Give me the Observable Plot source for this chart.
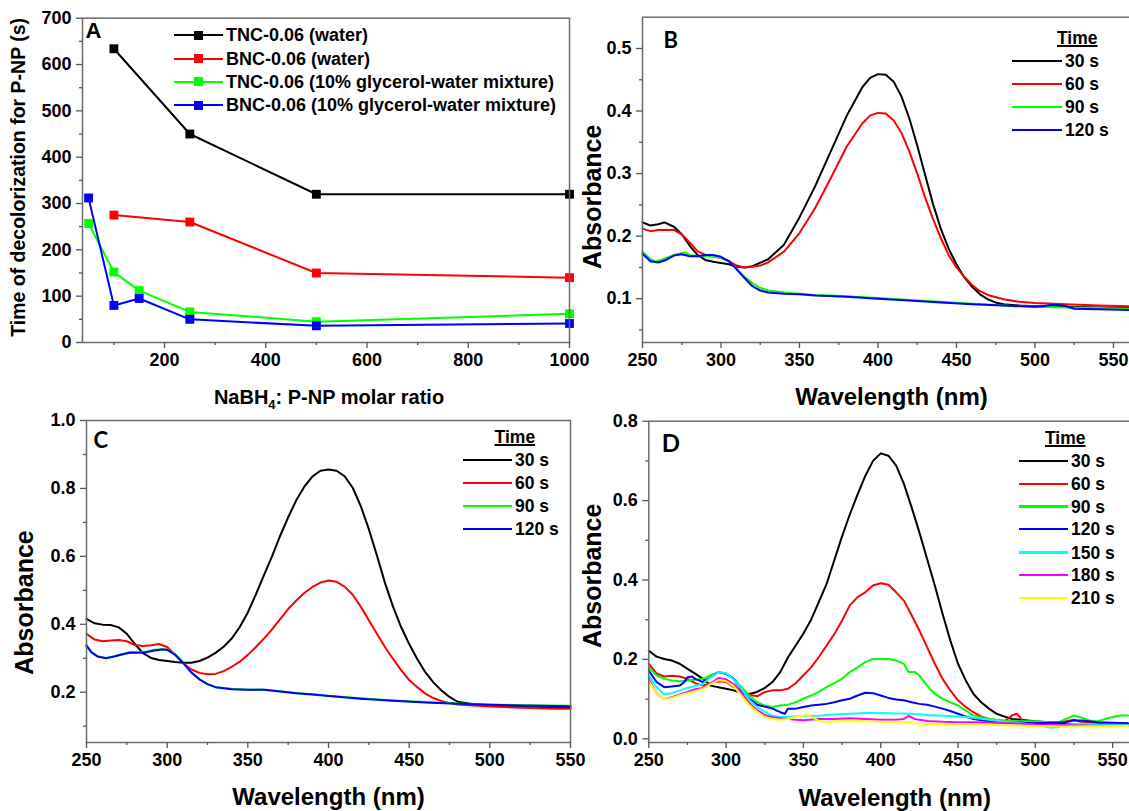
<!DOCTYPE html>
<html>
<head>
<meta charset="utf-8">
<script src="https://cdn.jsdelivr.net/npm/d3@7"></script>
<script src="https://cdn.jsdelivr.net/npm/@observablehq/plot@0.6"></script>
<style>
  html, body { margin: 0; padding: 0; background: #fff; }
  #root { position: relative; width: 1129px; height: 811px; overflow: hidden; background: #fff;
          font-family: "Liberation Sans", Arial, sans-serif; }
  #root svg { position: absolute; }
  .lg { position: absolute; font: bold 17.5px "Liberation Sans", Arial, sans-serif; color: #000; line-height: 20px; white-space: nowrap; }
  .lgA { font-size: 18px; }
  .lgline { position: absolute; height: 2.5px; }
  .lgmark { position: absolute; width: 9px; height: 9px; }
  .lgtitle { text-decoration: underline; text-decoration-thickness: 1.5px; }
</style>
</head>
<body>
<div id="root"></div>
<script>
// ---------------- Panel A data ----------------
const seriesA = ["TNC-0.06 (water)", "BNC-0.06 (water)", "TNC-0.06 (10% glycerol-water mixture)", "BNC-0.06 (10% glycerol-water mixture)"];
const colorsA = ["#000000", "#ff0000", "#00ff00", "#0000ff"];
const ratioWater = [100, 250, 500, 1000];
const tncWater = [634, 450, 320, 320];
const bncWater = [275, 260, 150, 140];
const ratioGly = [50, 100, 150, 250, 500, 1000];
const tncGly = [257, 152, 112, 66, 45, 62];
const bncGly = [312, 80, 95, 50, 36, 41];
const ticksAx = [200, 400, 600, 800, 1000];
const minorAx = [100, 300, 500, 700, 900];
const ticksAy = [0, 100, 200, 300, 400, 500, 600, 700];
const minorAy = [50, 150, 250, 350, 450, 550, 650];

// ---------------- Spectra: series names & colours ----------------
const timesBC = ["30 s", "60 s", "90 s", "120 s"];
const colorsBC = ["#000000", "#ff0000", "#00ff00", "#0000ff"];
const timesD = ["30 s", "60 s", "90 s", "120 s", "150 s", "180 s", "210 s"];
const colorsD = ["#000000", "#ff0000", "#00ff00", "#0000ff", "#00ffff", "#ff00ff", "#ffff00"];

// ---------------- Panel B spectra [wavelength nm, absorbance] ----------------
const specB30 = [[250,.222],[255,.217],[260,.219],[264,.222],[270,.215],[275,.203],[280,.185],[285,.170],[290,.162],[295,.159],[300,.157],[305,.155],[310,.151],[315,.150],[320,.152],[330,.163],[340,.186],[350,.230],[360,.280],[370,.336],[380,.392],[390,.438],[395,.453],[400,.459],[405,.458],[410,.447],[415,.423],[420,.388],[425,.345],[430,.298],[435,.252],[440,.212],[445,.180],[450,.155],[455,.134],[460,.119],[465,.107],[470,.099],[475,.094],[480,.091],[490,.089],[500,.088],[520,.087],[540,.086],[560,.086]];
const specB60 = [[250,.212],[255,.208],[260,.210],[270,.210],[275,.203],[280,.190],[285,.176],[290,.170],[295,.168],[300,.165],[305,.160],[310,.153],[315,.150],[320,.151],[325,.153],[330,.158],[340,.175],[350,.205],[360,.245],[370,.293],[380,.343],[390,.380],[395,.393],[400,.397],[405,.396],[410,.385],[415,.365],[420,.335],[425,.300],[430,.262],[435,.228],[440,.197],[445,.170],[450,.150],[455,.135],[460,.122],[465,.112],[470,.106],[480,.099],[490,.095],[500,.093],[520,.091],[540,.089],[560,.088]];
const specB90 = [[250,.175],[255,.163],[258,.160],[262,.162],[265,.165],[270,.170],[277,.174],[280,.170],[285,.168],[290,.168],[295,.168],[300,.165],[305,.160],[310,.148],[315,.135],[320,.125],[325,.117],[330,.113],[340,.110],[350,.108],[360,.106],[370,.105],[380,.104],[400,.101],[420,.098],[440,.095],[460,.092],[480,.089],[500,.087],[520,.086],[540,.085],[560,.084]];
const specB120 = [[250,.172],[255,.160],[260,.158],[265,.162],[270,.169],[275,.171],[280,.168],[285,.168],[290,.170],[295,.170],[300,.167],[305,.160],[310,.147],[315,.133],[320,.120],[325,.113],[330,.110],[340,.108],[350,.107],[360,.105],[380,.103],[400,.100],[420,.097],[440,.094],[460,.091],[480,.089],[500,.087],[505,.088],[510,.090],[515,.090],[520,.088],[525,.084],[540,.083],[560,.082]];

// ---------------- Panel C spectra ----------------
const specC30 = [[250,.416],[255,.403],[260,.399],[265,.398],[270,.391],[275,.372],[280,.342],[285,.315],[290,.301],[295,.295],[300,.292],[305,.289],[310,.287],[315,.287],[320,.292],[325,.302],[330,.316],[335,.334],[340,.358],[345,.392],[350,.435],[355,.488],[360,.545],[365,.600],[370,.660],[375,.715],[380,.765],[385,.805],[390,.835],[395,.852],[400,.856],[405,.852],[410,.836],[415,.802],[420,.748],[425,.680],[430,.603],[435,.522],[440,.452],[445,.392],[450,.342],[455,.298],[460,.259],[465,.229],[470,.205],[475,.186],[480,.172],[490,.165],[500,.161],[520,.158],[540,.156],[550,.156]];
const specC60 = [[250,.372],[255,.355],[260,.350],[265,.352],[270,.354],[275,.350],[280,.339],[285,.336],[290,.338],[295,.342],[300,.333],[305,.310],[310,.285],[315,.267],[320,.257],[325,.253],[330,.254],[335,.262],[340,.275],[345,.290],[350,.310],[355,.333],[360,.358],[365,.385],[370,.415],[375,.445],[380,.470],[385,.492],[390,.510],[395,.523],[400,.529],[405,.525],[410,.511],[415,.487],[420,.452],[425,.412],[430,.372],[435,.333],[440,.298],[445,.265],[450,.236],[455,.215],[460,.196],[465,.183],[470,.174],[475,.168],[480,.164],[500,.158],[520,.154],[540,.151],[550,.151]];
const specC90 = [[250,.335],[253,.318],[257,.305],[262,.301],[267,.305],[272,.312],[277,.317],[282,.318],[287,.320],[292,.325],[297,.327],[300,.325],[305,.312],[310,.287],[315,.259],[320,.238],[325,.224],[330,.215],[340,.210],[350,.207],[360,.208],[370,.203],[380,.198],[390,.194],[400,.190],[420,.182],[440,.176],[460,.171],[480,.167],[500,.164],[520,.162],[550,.160]];
const specC120 = [[250,.338],[253,.318],[257,.305],[262,.300],[267,.305],[272,.311],[277,.317],[282,.316],[287,.318],[292,.323],[297,.326],[300,.325],[305,.310],[310,.286],[315,.258],[320,.238],[325,.224],[330,.215],[340,.209],[350,.207],[360,.207],[370,.202],[380,.197],[390,.193],[400,.189],[420,.181],[440,.175],[460,.170],[480,.166],[500,.163],[520,.161],[550,.159]];

// ---------------- Panel D spectra ----------------
const specD30 = [[250,.222],[255,.207],[260,.201],[265,.197],[270,.189],[275,.176],[280,.164],[285,.151],[290,.134],[295,.130],[300,.126],[305,.122],[310,.115],[315,.113],[320,.118],[325,.128],[330,.143],[335,.168],[340,.205],[345,.235],[350,.265],[355,.300],[360,.345],[365,.390],[370,.450],[375,.510],[380,.565],[385,.615],[390,.662],[395,.700],[400,.719],[405,.713],[410,.688],[415,.642],[420,.583],[425,.520],[430,.453],[435,.386],[440,.315],[445,.248],[450,.189],[455,.147],[460,.113],[465,.092],[470,.076],[475,.063],[480,.056],[485,.050],[490,.048],[500,.044],[510,.041],[520,.038],[530,.034],[540,.034],[545,.038]];
const specD60 = [[250,.189],[255,.165],[260,.157],[265,.159],[270,.157],[275,.151],[280,.140],[285,.134],[290,.140],[295,.145],[300,.143],[305,.130],[310,.118],[315,.111],[320,.107],[325,.118],[330,.122],[335,.122],[340,.126],[345,.140],[350,.160],[355,.180],[360,.206],[365,.235],[370,.264],[375,.298],[380,.336],[385,.357],[390,.369],[395,.386],[400,.392],[405,.388],[410,.369],[415,.348],[420,.311],[425,.273],[430,.231],[435,.189],[440,.151],[445,.122],[450,.097],[455,.080],[460,.067],[465,.056],[470,.050],[475,.046],[480,.044],[485,.059],[488,.063],[490,.055],[492,.044],[500,.042],[510,.039],[520,.044],[525,.048],[530,.042],[540,.039],[560,.038]];
const specD90 = [[250,.180],[255,.160],[260,.151],[265,.147],[270,.145],[275,.147],[280,.149],[285,.151],[290,.160],[295,.168],[300,.164],[305,.151],[310,.130],[315,.109],[320,.092],[325,.084],[330,.080],[335,.084],[340,.086],[345,.092],[350,.101],[355,.109],[360,.118],[365,.130],[370,.140],[375,.151],[380,.168],[385,.180],[390,.193],[395,.201],[400,.201],[405,.201],[410,.197],[415,.189],[418,.168],[422,.168],[425,.160],[430,.134],[435,.113],[440,.101],[445,.092],[450,.084],[455,.071],[460,.059],[470,.050],[480,.046],[490,.044],[500,.044],[510,.042],[515,.042],[520,.050],[525,.059],[530,.053],[535,.046],[540,.044],[545,.050],[550,.055],[555,.059],[560,.059]];
const specD120 = [[250,.172],[255,.143],[260,.130],[265,.132],[270,.134],[273,.143],[275,.155],[278,.157],[280,.151],[285,.143],[290,.155],[295,.168],[300,.164],[305,.151],[310,.122],[315,.101],[320,.086],[325,.081],[330,.076],[335,.067],[338,.063],[340,.076],[345,.076],[350,.080],[355,.084],[360,.086],[365,.088],[370,.092],[375,.097],[380,.101],[385,.109],[390,.116],[395,.115],[400,.109],[405,.103],[410,.099],[415,.097],[420,.092],[425,.088],[430,.086],[435,.081],[440,.076],[445,.070],[450,.063],[455,.056],[460,.050],[470,.044],[480,.042],[500,.039],[520,.042],[525,.046],[530,.046],[540,.042],[560,.039]];
const specD150 = [[250,.160],[255,.130],[260,.112],[265,.115],[270,.122],[275,.128],[280,.133],[285,.138],[290,.155],[295,.168],[300,.165],[305,.150],[310,.125],[315,.098],[320,.080],[325,.068],[330,.058],[335,.055],[340,.055],[345,.056],[350,.057],[360,.058],[370,.061],[380,.063],[390,.065],[400,.065],[410,.064],[420,.063],[430,.060],[440,.058],[450,.056],[460,.053],[470,.048],[480,.043],[490,.040],[500,.035],[505,.032],[510,.028],[515,.030],[520,.036],[530,.038],[540,.036],[560,.035]];
const specD180 = [[250,.150],[255,.115],[260,.100],[265,.105],[270,.112],[275,.118],[280,.125],[285,.128],[290,.140],[295,.153],[300,.150],[305,.138],[310,.115],[315,.090],[320,.072],[325,.060],[330,.054],[335,.052],[340,.050],[345,.048],[350,.047],[360,.050],[370,.050],[380,.052],[390,.050],[400,.048],[410,.048],[415,.050],[418,.058],[422,.050],[430,.045],[440,.043],[450,.042],[460,.042],[480,.040],[500,.036],[520,.034],[540,.033],[560,.033]];
const specD210 = [[250,.145],[255,.115],[260,.100],[265,.103],[270,.110],[275,.115],[280,.120],[285,.126],[290,.138],[295,.148],[300,.145],[305,.132],[310,.108],[315,.085],[320,.068],[325,.055],[330,.050],[335,.048],[340,.050],[345,.055],[350,.058],[353,.060],[355,.055],[360,.045],[365,.042],[370,.044],[380,.045],[390,.044],[400,.043],[410,.043],[420,.042],[425,.036],[430,.038],[450,.037],[480,.034],[500,.032],[520,.031],[560,.032]];

// ---------------- Tick values ----------------
const ticksWl = [250, 300, 350, 400, 450, 500, 550];
const minorWl = [275, 325, 375, 425, 475, 525];
const ticksBy = [0.1, 0.2, 0.3, 0.4, 0.5];
const minorBy = [0.05, 0.15, 0.25, 0.35, 0.45];
const ticksCy = [0.2, 0.4, 0.6, 0.8, 1.0];
const minorCy = [0.1, 0.3, 0.5, 0.7, 0.9];
const ticksDy = [0.0, 0.2, 0.4, 0.6, 0.8];
const minorDy = [0.1, 0.3, 0.5, 0.7];

// ---------------- Drawing ----------------
const root = document.getElementById("root");
const baseStyle = "font-family:'Liberation Sans',Arial,sans-serif;font-size:18px;font-weight:bold;color:#000;background:transparent;overflow:visible;";
const frameColor = "#6a6a6a";
const tickColor = "#555";
const fmt1 = d3.format(".1f");
const fmtInt = d3.format("d");

function place(node, left, top) {
  node.style.position = "absolute";
  node.style.left = left + "px";
  node.style.top = top + "px";
  root.appendChild(node);
  return node;
}

function axes(xt, xm, yt, ym, xfmt, yfmt) {
  return [
    Plot.axisX(xt, {tickSize: 6, tickPadding: 5, tickFormat: xfmt, stroke: tickColor, strokeWidth: 1.3, label: null}),
    Plot.axisX(xm, {tickSize: 3, tickFormat: () => "", stroke: tickColor, strokeWidth: 1.3, label: null}),
    Plot.axisY(yt, {tickSize: 6, tickPadding: 5, tickFormat: yfmt, stroke: tickColor, strokeWidth: 1.3, label: null}),
    Plot.axisY(ym, {tickSize: 3, tickFormat: () => "", stroke: tickColor, strokeWidth: 1.3, label: null})
  ];
}

// Panel A
const rowsA = [
  ...ratioWater.map((r, i) => ({s: seriesA[0], r, t: tncWater[i]})),
  ...ratioWater.map((r, i) => ({s: seriesA[1], r, t: bncWater[i]})),
  ...ratioGly.map((r, i) => ({s: seriesA[2], r, t: tncGly[i]})),
  ...ratioGly.map((r, i) => ({s: seriesA[3], r, t: bncGly[i]}))
];
const plotA = Plot.plot({
  width: 580, height: 415,
  marginLeft: 82, marginRight: 11, marginTop: 17.7, marginBottom: 73,
  style: baseStyle,
  x: {domain: [38, 1000]},
  y: {domain: [0, 700]},
  color: {domain: seriesA, range: colorsA},
  marks: [
    Plot.line(rowsA, {x: "r", y: "t", z: "s", stroke: "s", strokeWidth: 2}),
    Plot.dot(rowsA, {x: "r", y: "t", fill: "s", symbol: "square", r: 5, stroke: "none"}),
    Plot.frame({stroke: frameColor, strokeWidth: 1.5}),
    ...axes(ticksAx, minorAx, ticksAy, minorAy, fmtInt, fmtInt),
    Plot.text(["Time of decolorization for P-NP (s)"], {text: d => d, frameAnchor: "left", textAnchor: "middle", rotate: -90, dx: -71, dy: -3, lineAnchor: "top", fontSize: 19.5}),
    Plot.text(["NaBH4: P-NP molar ratio"], {text: d => d, frameAnchor: "bottom", textAnchor: "middle", dx: 3, dy: 61, lineAnchor: "bottom", fontSize: 20}),
    Plot.text(["A"], {text: d => d, frameAnchor: "top-left", dx: 3, dy: 4, textAnchor: "start", lineAnchor: "top", fontSize: 22})
  ]
});
place(plotA, 0, 0);
// subscript 4 in NaBH4
d3.select(plotA).selectAll("text").each(function () {
  if (this.textContent === "NaBH4: P-NP molar ratio") {
    const ns = "http://www.w3.org/2000/svg";
    this.textContent = "";
    const t1 = document.createElementNS(ns, "tspan"); t1.textContent = "NaBH";
    const t2 = document.createElementNS(ns, "tspan"); t2.textContent = "4"; t2.setAttribute("dy", "5"); t2.setAttribute("font-size", "13");
    const t3 = document.createElementNS(ns, "tspan"); t3.textContent = ": P-NP molar ratio"; t3.setAttribute("dy", "-5");
    this.append(t1, t2, t3);
  }
});

function specPanel(o) {
  const rows = o.names.flatMap((name, i) => o.arrays[i].map(([wl, a]) => ({time: name, wl, a})));
  const p = Plot.plot({
    width: o.width, height: o.height,
    marginLeft: o.ml, marginRight: o.mr, marginTop: o.mt, marginBottom: o.mb,
    style: baseStyle,
    x: {domain: o.xDomain},
    y: {domain: o.yDomain},
    color: {domain: o.names, range: o.colors},
    marks: [
      Plot.line(rows, {x: "wl", y: "a", z: "time", stroke: "time", strokeWidth: 2}),
      Plot.frame({stroke: frameColor, strokeWidth: 1.5}),
      ...axes(ticksWl, minorWl, o.yTicks, o.yMinor, fmtInt, fmt1),
      Plot.text(["Wavelength (nm)"], {text: d => d, frameAnchor: "bottom", textAnchor: "middle", dx: o.xtDx, dy: o.xtDy, lineAnchor: "bottom", fontSize: 24}),
      Plot.text(["Absorbance"], {text: d => d, frameAnchor: "left", textAnchor: "middle", rotate: -90, dx: o.ytDx, dy: o.ytDy, lineAnchor: "top", fontSize: 25}),
      Plot.text([o.letter], {text: d => d, frameAnchor: "top-left", dx: o.lDx, dy: o.lDy, textAnchor: "start", lineAnchor: "top", fontSize: o.lSize, fontFamily: "Lato, 'Liberation Sans', sans-serif"})
    ]
  });
  return place(p, o.left, o.top);
}

specPanel({names: timesBC, colors: colorsBC, arrays: [specB30, specB60, specB90, specB120],
  left: 580, top: 0, width: 570, height: 415, ml: 62, mr: 0, mt: 16.7, mb: 73,
  xDomain: [250, 573.6], yDomain: [0.03, 0.55], yTicks: ticksBy, yMinor: minorBy,
  xtDx: -5, xtDy: 62, ytDx: -59, ytDy: 17, letter: "B", lDx: 21, lDy: 15, lSize: 22});

specPanel({names: timesBC, colors: colorsBC, arrays: [specC30, specC60, specC90, specC120],
  left: 0, top: 415, width: 580, height: 396, ml: 86, mr: 10, mt: 5, mb: 69,
  xDomain: [250, 550], yDomain: [0.052, 1.0], yTicks: ticksCy, yMinor: minorCy,
  xtDx: 0, xtDy: 62, ytDx: -71, ytDy: 21, letter: "C", lDx: 7, lDy: 12, lSize: 22});

specPanel({names: timesD, colors: colorsD, arrays: [specD30, specD60, specD90, specD120, specD150, specD180, specD210],
  left: 580, top: 415, width: 570, height: 396, ml: 68.3, mr: 0, mt: 5.7, mb: 69,
  xDomain: [250, 574.5], yDomain: [-0.0093, 0.8], yTicks: ticksDy, yMinor: minorDy,
  xtDx: -5, xtDy: 63, ytDx: -66, ytDy: -6, letter: "D", lDx: 13, lDy: 14, lSize: 24});

// ---------------- Legends (HTML) ----------------
function el(cls, css, text) {
  const d = document.createElement("div");
  d.className = cls;
  Object.assign(d.style, css);
  if (text != null) d.textContent = text;
  root.appendChild(d);
  return d;
}

function timeLegend(o) {
  el("lg lgtitle", {left: o.titleX + "px", top: (o.titleY - 10) + "px"}, "Time");
  o.names.forEach((n, i) => {
    const cy = o.rows[i];
    el("lgline", {left: o.x1 + "px", width: (o.x2 - o.x1) + "px", top: (cy - 1.25) + "px", background: o.colors[i]});
    el("lg", {left: o.tx + "px", top: (cy - 10) + "px"}, n);
  });
}

// Legend A
const rowsLegA = [35, 58.5, 81.7, 105];
seriesA.forEach((n, i) => {
  const cy = rowsLegA[i];
  el("lgline", {left: "174px", width: "49px", top: (cy - 1) + "px", height: "2px", background: colorsA[i]});
  el("lgmark", {left: "194px", top: (cy - 4.5) + "px", background: colorsA[i]});
  el("lg lgA", {left: "226px", top: (cy - 10) + "px"}, n);
});

timeLegend({names: timesBC, colors: colorsBC, titleX: 1057, titleY: 38, rows: [61, 84, 107, 130], x1: 1012, x2: 1062, tx: 1065});
timeLegend({names: timesBC, colors: colorsBC, titleX: 494.6, titleY: 437, rows: [460, 483, 506, 529], x1: 463, x2: 511.6, tx: 515});
timeLegend({names: timesD, colors: colorsD, titleX: 1045, titleY: 438, rows: [461, 484, 506.7, 529, 552.7, 575, 598], x1: 1018.6, x2: 1067.6, tx: 1071});
</script>
</body>
</html>
